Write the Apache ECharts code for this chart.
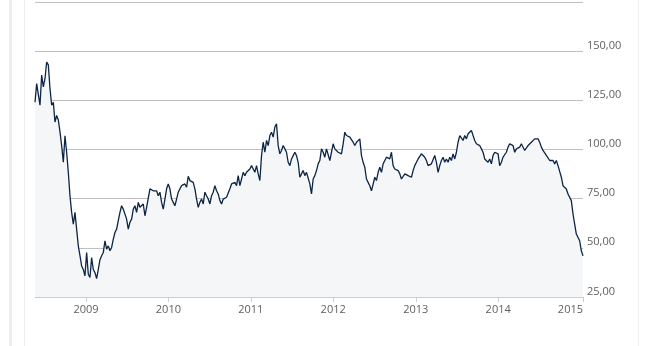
<!DOCTYPE html>
<html>
<head>
<meta charset="utf-8">
<script src="https://cdn.jsdelivr.net/npm/echarts@6/dist/echarts.min.js"></script>
<style>
html,body{margin:0;padding:0;background:#fff;}
#chart{width:645px;height:346px;}
</style>
</head>
<body>
<div id="chart"></div>
<script>
// Sampling: first sample date and spacing between samples (days)
const startDate = [2008, 4, 20];
const stepDays = 7.379;

// Price samples (one per ~week)
const prices = [
124,133.5,128,122.5,137.8,131.8,136,144.5,143,131,
122.5,124,114,117.3,115,109,102,93.5,107,98.6,
88.4,76.5,68,62,68,59.5,51,46,40.8,39,
35.7,47.6,36.6,34.9,45,39,37.4,34.4,39,44,
46,47.6,53.6,49.3,51,48.5,50.2,54.4,57.8,59.5,
63.8,68,71.4,69.7,70.6,64.6,59.5,63,64.6,69.7,
71.4,68,73.1,70.6,69.7,72.3,66.3,70.6,71.4,80,
80,79,78.3,79,76.5,78.3,73.1,69.7,74.8,80,
82.5,80,74.8,73.1,71.4,74.8,78.3,80,81.6,80.8,
82.5,80.8,86.4,84.2,85,83.3,80,74.8,70.6,73.1,
74.8,72.3,78.3,76.5,74.8,72.3,76.5,78.3,81.6,79,
77.4,74,72.3,74.8,74,75.7,74.8,80,82.5,81.6,
83.3,81.6,86.7,81.6,85,88.4,86.7,88.4,89.3,90.1,
91.8,92.2,88.4,91.8,87.6,84.2,96.9,103.7,98.6,104.6,
102,107.1,108.8,106.3,111.4,113.1,102,97.8,99.5,102,
100.3,98.6,93.5,91.8,95.2,96.9,98.6,96.9,93.5,85.9,
87.6,89.3,86.7,88.4,89.3,82.5,77.4,85,86.7,89.3,
92.7,94.4,100.3,98.6,96.1,100.3,99.5,94.4,98.6,102.9,
100.3,101.2,98.6,99.5,97.8,102.9,108.8,107.1,108,106.3,
107.1,103.7,102,103.7,103.7,105.4,97,93.5,91,85,
83.3,81.6,79,78.2,85.9,84.2,88.4,91,88.4,92.7,
94.4,96.1,97,95.2,98.6,91.8,90.1,91,89.3,87.6,
85,85.9,87.6,88.4,86.7,87.6,85.9,89.3,91.8,93.5,
95.2,96.1,97.8,97,96.1,94.4,91.8,91,92.7,93.5,
97,93.5,88.4,91.8,94.4,96.1,93.5,95.2,93.5,96.1,
94.4,97.8,95.2,98.6,103.7,107.1,108,104.6,107.1,105.4,
108,107.1,109.7,107.1,104.6,102.9,103.7,102,100.3,98.6,
95.2,94.4,93.5,95.2,92.7,97,98.6,99.5,97.8,91.8,
93.5,96.1,97,98.6,101.2,102.9,103.7,102,98.6,100.3,
99.5,101.2,102.9,102,99.5,100.3,102,102.9,103.7,102.9,
105.4,106.3,105.4,103.7,101.2,99.5,100.3,97,96.1,94.4,
93.5,94.4,92.7,94.4,91.8,91,85.9,81.6,80.8,79.9,
77.4,76.5,74,67.2,62.1,57,56.1,53.6,48.5,45.9
];

// Y-axis tick values
const yTicks = [25, 50, 75, 100, 125, 150, 175];

const DAY = 86400000;
const t0 = Date.UTC(startDate[0], startDate[1], startDate[2]);
const seriesData = prices.map((v, i) => [t0 + Math.round(i * stepDays * DAY), v]);
const tEnd = seriesData[seriesData.length - 1][0];

const chart = echarts.init(document.getElementById('chart'), null, {renderer: 'canvas'});
const font = '"Open Sans", "DejaVu Sans", sans-serif';

chart.setOption({
  animation: false,
  useUTC: true,
  backgroundColor: '#ffffff',
  grid: {left: 35, right: 62, top: 2, bottom: 49, containLabel: false},
  graphic: [
    {type: 'rect', shape: {x: 9, y: 0, width: 3, height: 346}, style: {fill: '#eeeeee'}, silent: true},
    {type: 'rect', shape: {x: 24, y: 0, width: 1, height: 346}, style: {fill: '#eeeeee'}, silent: true},
    {type: 'rect', shape: {x: 638, y: 0, width: 1, height: 346}, style: {fill: '#eeeeee'}, silent: true}
  ],
  xAxis: {
    type: 'time',
    min: t0,
    max: tEnd,
    minInterval: 365 * DAY,
    maxInterval: 366 * DAY,
    splitLine: {show: false},
    axisLine: {show: true, lineStyle: {color: '#c0d0e0', width: 1}},
    axisTick: {show: true, length: 5, lineStyle: {color: '#c0d0e0'}},
    axisLabel: {
      color: '#606060', fontSize: 11, fontFamily: font, margin: 7,
      showMinLabel: false, showMaxLabel: true, alignMaxLabel: 'right',
      formatter: function (v) { return String(new Date(v).getUTCFullYear()); }
    }
  },
  yAxis: {
    type: 'value',
    position: 'right',
    min: yTicks[0],
    max: yTicks[yTicks.length - 1],
    interval: yTicks[1] - yTicks[0],
    axisLine: {show: false},
    axisTick: {show: false},
    splitLine: {show: true, lineStyle: {color: '#c0c0c0', width: 1}},
    axisLabel: {
      color: '#606060', fontSize: 11, fontFamily: font, margin: 4,
      align: 'left', verticalAlign: 'bottom', showMaxLabel: false,
      formatter: function (v) { return v.toFixed(2).replace('.', ','); }
    }
  },
  series: [{
    type: 'line',
    data: seriesData,
    showSymbol: false,
    symbol: 'none',
    lineStyle: {color: '#0d2545', width: 1.3},
    areaStyle: {color: '#f4f6f8', origin: 'start', opacity: 1},
    z: 3
  }]
});
</script>
</body>
</html>
